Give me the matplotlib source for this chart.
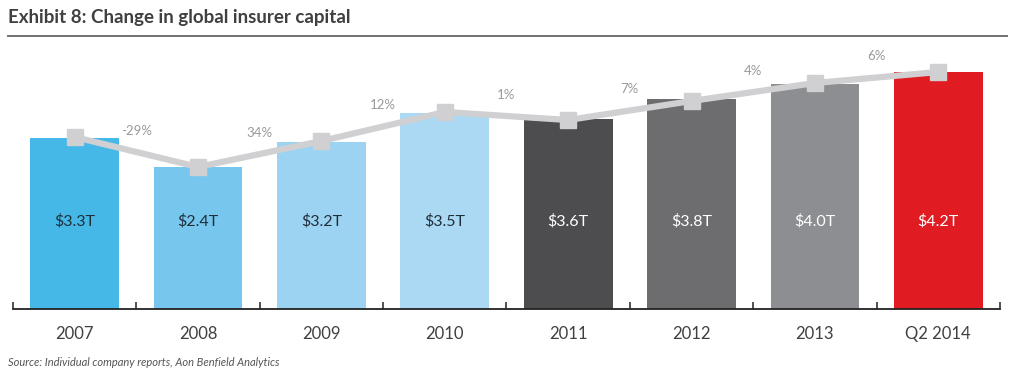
import matplotlib.pyplot as plt
import numpy as np

# data
years = ['2007', '2008', '2009', '2010', '2011', '2012', '2013', 'Q2 2014']
capital_labels = ['$3.3T', '$2.4T', '$3.2T', '$3.5T', '$3.6T', '$3.8T', '$4.0T', '$4.2T']
bar_height = [171, 142, 167, 196, 190, 210, 225, 237]
line_value = [172, 142, 168, 197, 189, 208, 226, 237]
pct_change = ['-29%', '34%', '12%', '1%', '7%', '4%', '6%']

bar_colors = ['#45b8e8', '#77c6ee', '#9dd3f2', '#abd9f4',
              '#4d4d4f', '#6d6d70', '#8d8e91', '#e01b22']
text_colors = ['#1f2f3a'] * 4 + ['white'] * 4

plt.rcParams['font.family'] = ['Lato', 'DejaVu Sans']

fig = plt.figure(figsize=(10.29, 3.77), dpi=100)
ax = fig.add_axes([13 / 1029, 1 - 309 / 377, 987 / 1029, 264 / 377])

x = np.arange(len(years))
ax.bar(x, bar_height, width=0.72, color=bar_colors, zorder=1)
ax.plot(x, line_value, color='#d0d0d2', lw=4.5, marker='s', ms=11,
        mfc='#d0d0d2', mec='#d0d0d2', zorder=3)

for i in range(len(years)):
    ax.text(x[i], 88, capital_labels[i], ha='center', va='center',
            fontsize=11.5, color=text_colors[i])

for i in range(len(pct_change)):
    mid = (line_value[i] + line_value[i + 1]) / 2
    ax.annotate(pct_change[i], (x[i] + 0.5, mid), xytext=(0, 11),
                textcoords='offset points', ha='center', va='bottom',
                fontsize=9.5, color='#9a9a9c')

ax.set_xlim(-0.5, len(years) - 0.5)
ax.set_ylim(0, 264)
for s in ['top', 'right', 'left']:
    ax.spines[s].set_visible(False)
ax.spines['bottom'].set_linewidth(1.3)
ax.spines['bottom'].set_color('#222222')
ax.set_yticks([])
ax.set_xticks(x)
ax.set_xticklabels(years, fontsize=12, color='#404040')
ax.tick_params(axis='x', which='major', length=0, pad=12)
ax.set_xticks(np.arange(-0.5, len(years)), minor=True)
ax.tick_params(axis='x', which='minor', direction='in', length=5, width=1.1, color='#222222')

fig.text(8 / 1029, 1 - 17 / 377, 'Exhibit 8: Change in global insurer capital',
         fontsize=13.5, fontweight='bold', color='#404040', va='center', ha='left')
fig.add_artist(plt.Line2D([8 / 1029, 1007 / 1029], [1 - 36 / 377] * 2, color='#707070', lw=1.4))
fig.text(8 / 1029, 1 - 362 / 377, 'Source: Individual company reports, Aon Benfield Analytics',
         fontsize=8, style='italic', color='#555555', va='center', ha='left')

fig.savefig('out.png', dpi=100)
